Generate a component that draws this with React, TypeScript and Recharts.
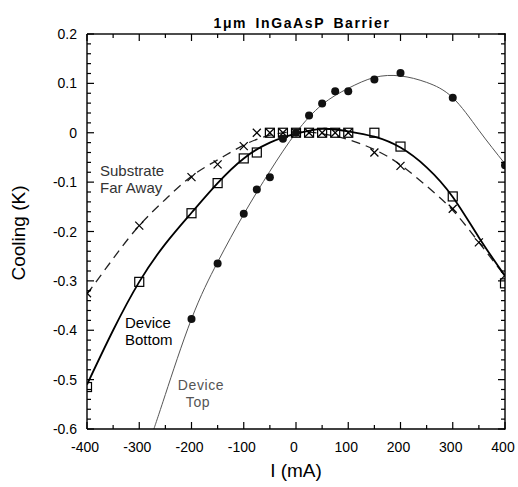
import React from 'react';
import { ComposedChart, Line, Scatter, XAxis, YAxis } from 'recharts';

// measured points (I in mA, cooling in K)
const topI = [-200, -150, -100, -75, -50, -25, 0, 25, 50, 75, 100, 150, 200, 300, 400];
const topCooling = [-0.377, -0.265, -0.164, -0.115, -0.09, -0.012, 0, 0.035, 0.059, 0.084, 0.084, 0.108, 0.121, 0.071, -0.066];

const bottomI = [-400, -300, -200, -150, -100, -75, -50, -25, 0, 25, 50, 75, 100, 150, 200, 300, 400];
const bottomCooling = [-0.515, -0.302, -0.163, -0.102, -0.052, -0.04, 0, 0, 0, 0, 0, 0, 0, 0, -0.028, -0.129, -0.305];

const subI = [-400, -300, -200, -150, -100, -75, -50, -25, 0, 25, 50, 75, 100, 150, 200, 300, 350, 400];
const subCooling = [-0.325, -0.188, -0.09, -0.064, -0.027, 0, 0, 0, 0, 0, 0, 0, 0, -0.04, -0.067, -0.154, -0.222, -0.289];

// fitted curves
const topFitI = [-272, -250, -200, -150, -100, -50, 0, 50, 100, 150, 200, 250, 300, 350, 400];
const topFitCooling = [-0.6, -0.53, -0.377, -0.262, -0.165, -0.078, 0, 0.057, 0.09, 0.112, 0.115, 0.102, 0.071, 0.005, -0.063];

const fitI = [-400, -350, -300, -250, -200, -150, -100, -50, 0, 50, 100, 150, 200, 250, 300, 350, 400];
const bottomFitCooling = [-0.51, -0.4, -0.302, -0.225, -0.162, -0.102, -0.052, -0.02, -0.002, 0.008, 0.003, -0.008, -0.03, -0.07, -0.13, -0.212, -0.29];
const subFitCooling = [-0.327, -0.255, -0.188, -0.135, -0.088, -0.055, -0.025, -0.005, 0.002, -0.002, -0.014, -0.034, -0.065, -0.108, -0.157, -0.222, -0.29];

const X_MIN = -400;
const X_MAX = 400;
const Y_MIN = -0.6;
const Y_MAX = 0.2;
const xTicks = [-400, -350, -300, -250, -200, -150, -100, -50, 0, 50, 100, 150, 200, 250, 300, 350, 400];
const yTicks = Array.from({ length: 41 }, (_, i) => Math.round((-0.6 + i * 0.02) * 100) / 100);

const zip = (xs: number[], ys: number[]) => xs.map((x, i) => ({ x, y: ys[i] }));

const FONT = '"Liberation Sans", Arial, Helvetica, sans-serif';
const isMajorX = (v: number) => Math.abs(v % 100) < 1e-6;
const isMajorY = (v: number) => Math.abs(Math.round(v * 10) - v * 10) < 1e-6;

// chart layout
const W = 518;
const H = 487;
const M = { top: 34, right: 13 };
const Y_AXIS_W = 87;
const X_AXIS_H = 58;
const PLOT = {
  left: Y_AXIS_W,
  top: M.top,
  width: W - Y_AXIS_W - M.right,
  height: H - M.top - X_AXIS_H,
};
// same linear mapping as the chart's scales, used for the top/right frame ticks
const px = (v: number) => PLOT.left + ((v - X_MIN) / (X_MAX - X_MIN)) * PLOT.width;
const py = (v: number) => PLOT.top + ((Y_MAX - v) / (Y_MAX - Y_MIN)) * PLOT.height;

const BottomTick = ({ x, y, payload }: any) => {
  const major = isMajorX(payload.value);
  const len = major ? 7 : 4;
  return (
    <g>
      <rect x={x - 0.6} y={y - len} width={1.2} height={len} fill="#000" />
      {major && (
        <text x={x - 2} y={y + 23} textAnchor="middle" fontSize={14} fontFamily={FONT} fill="#000">
          {payload.value}
        </text>
      )}
    </g>
  );
};

const LeftTick = ({ x, y, payload }: any) => {
  const major = isMajorY(payload.value);
  const len = major ? 7 : 4;
  return (
    <g>
      <rect x={x} y={y - 0.6} width={len} height={1.2} fill="#000" />
      {major && (
        <text x={x - 10} y={y + 5} textAnchor="end" fontSize={14} fontFamily={FONT} fill="#000">
          {String(Math.round(payload.value * 10) / 10)}
        </text>
      )}
    </g>
  );
};

const SquareMark = ({ cx, cy }: any) => (
  <rect x={cx - 4.5} y={cy - 4.5} width={9} height={9} fill="none" stroke="#000" strokeWidth={1.2} />
);

const CrossMark = ({ cx, cy }: any) => (
  <g stroke="#000" strokeWidth={1.2}>
    <line x1={cx - 4} y1={cy - 4} x2={cx + 4} y2={cy + 4} />
    <line x1={cx - 4} y1={cy + 4} x2={cx + 4} y2={cy - 4} />
  </g>
);

const DotMark = ({ cx, cy }: any) => <circle cx={cx} cy={cy} r={4} fill="#111" />;

const axisStroke = { stroke: '#000', strokeWidth: 1.4 };

export default function App() {
  return (
    <div style={{ position: 'absolute', left: 0, top: 0, width: W, height: H, background: '#fff' }}>
      <ComposedChart width={W} height={H} margin={{ top: M.top, right: M.right, bottom: 0, left: 0 }}>
        <XAxis
          dataKey="x"
          type="number"
          domain={[X_MIN, X_MAX]}
          ticks={xTicks}
          interval={0}
          allowDataOverflow
          height={X_AXIS_H}
          tickSize={0}
          tickMargin={0}
          tickLine={false}
          axisLine={axisStroke}
          tick={<BottomTick />}
        />
        <YAxis
          type="number"
          domain={[Y_MIN, Y_MAX]}
          ticks={yTicks}
          interval={0}
          allowDataOverflow
          width={Y_AXIS_W}
          tickSize={0}
          tickMargin={0}
          tickLine={false}
          axisLine={axisStroke}
          tick={<LeftTick />}
        />
        <Line
          data={zip(fitI, subFitCooling)}
          dataKey="y"
          type="natural"
          stroke="#222"
          strokeWidth={1.3}
          strokeDasharray="9 6"
          dot={false}
          isAnimationActive={false}
        />
        <Line
          data={zip(fitI, bottomFitCooling)}
          dataKey="y"
          type="natural"
          stroke="#000"
          strokeWidth={1.8}
          dot={false}
          isAnimationActive={false}
        />
        <Line
          data={zip(topFitI, topFitCooling)}
          dataKey="y"
          type="natural"
          stroke="#555"
          strokeWidth={1}
          dot={false}
          isAnimationActive={false}
        />
        <Scatter data={zip(bottomI, bottomCooling)} dataKey="y" shape={SquareMark} isAnimationActive={false} />
        <Scatter data={zip(subI, subCooling)} dataKey="y" shape={CrossMark} isAnimationActive={false} />
        <Scatter data={zip(topI, topCooling)} dataKey="y" shape={DotMark} isAnimationActive={false} />
      </ComposedChart>
      <svg
        width={W}
        height={H}
        style={{ position: 'absolute', left: 0, top: 0, pointerEvents: 'none' }}
        fontFamily={FONT}
      >
        {/* top and right frame edges with inward ticks */}
        <rect x={px(X_MIN)} y={py(Y_MAX) - 0.7} width={PLOT.width + 0.7} height={1.4} fill="#000" />
        <rect x={px(X_MAX) - 0.7} y={py(Y_MAX) - 0.7} width={1.4} height={PLOT.height + 1.4} fill="#000" />
        {xTicks.map((v) => (
          <rect
            key={`tx${v}`}
            x={px(v) - 0.6}
            y={py(Y_MAX)}
            width={1.2}
            height={isMajorX(v) ? 7 : 4}
            fill="#000"
          />
        ))}
        {yTicks.map((v) => (
          <rect
            key={`ty${v}`}
            x={px(X_MAX) - (isMajorY(v) ? 7 : 4)}
            y={py(v) - 0.6}
            width={isMajorY(v) ? 7 : 4}
            height={1.2}
            fill="#000"
          />
        ))}

        <text x={302} y={28} textAnchor="middle" fontSize={14} fontWeight="bold" letterSpacing={1.6} wordSpacing={3}>
          1μm InGaAsP Barrier
        </text>
        <text x={296} y={477} textAnchor="middle" fontSize={19}>
          I (mA)
        </text>
        <text x={25} y={233} textAnchor="middle" fontSize={19} transform="rotate(-90 25 233)">
          Cooling (K)
        </text>
        <text x={100} y={176} fontSize={15} fill="#333">Substrate</text>
        <text x={100} y={193} fontSize={15} fill="#333">Far Away</text>
        <text x={125} y={328} fontSize={15} fill="#000">Device</text>
        <text x={125} y={345} fontSize={15} fill="#000">Bottom</text>
        <text x={201} y={390} textAnchor="middle" fontSize={14} letterSpacing={0.6} fill="#555">Device</text>
        <text x={198} y={407} textAnchor="middle" fontSize={14} letterSpacing={0.6} fill="#555">Top</text>
      </svg>
    </div>
  );
}
